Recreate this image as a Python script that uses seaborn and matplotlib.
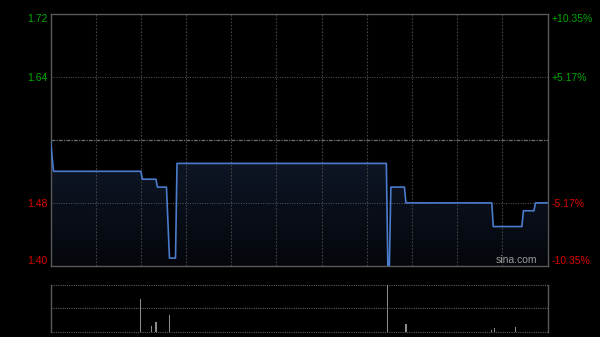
import numpy as np
import pandas as pd
import matplotlib
matplotlib.use("Agg")
import matplotlib.pyplot as plt
from matplotlib.colors import LinearSegmentedColormap
import seaborn as sns

# ---- data ----
minutes = [0, 2, 60, 61, 70, 71, 77, 79, 83, 84, 223, 224, 225, 226,
           235, 236, 293, 294, 313, 314, 321, 322, 330]
prices = [1.56, 1.52, 1.52, 1.51, 1.51, 1.50, 1.50, 1.41, 1.41, 1.53,
          1.53, 1.40, 1.40, 1.50, 1.50, 1.48, 1.48, 1.45, 1.45, 1.47,
          1.47, 1.48, 1.48]
vol_minutes = [60, 67, 70, 79, 224, 236, 293, 295, 309]
vol_values = [69, 13, 21, 36, 100, 17, 3, 7, 9]
price_ticks = [1.40, 1.48, 1.64, 1.72]
price_labels = ["1.40", "1.48", "1.64", "1.72"]
pct_labels = ["-10.35%", "-5.17%", "+5.17%", "+10.35%"]
prev_close = 1.56
time_grid = [30, 60, 90, 120, 150, 180, 210, 240, 270, 300]
session_minutes = 330

sns.set_style("dark")
plt.rcParams["font.family"] = ["Liberation Sans", "DejaVu Sans"]

BG = "#000000"
SPINE = "#595959"
GREEN = "#00a800"
RED = "#dd0000"
LINE = "#4a7bcc"

fig = plt.figure(figsize=(6, 3.37), dpi=100, facecolor=BG)
ax = fig.add_axes([50.5 / 600, 1 - 266 / 337, 497 / 600, 252.5 / 337])
axv = fig.add_axes([50.5 / 600, 1 - 331.7 / 337, 497 / 600, 46.7 / 337])

df = pd.DataFrame({"minute": minutes, "price": prices})

for a in (ax, axv):
    a.set_facecolor(BG)
    a.grid(False)

ax.set_xlim(0, session_minutes)
ax.set_ylim(price_ticks[0], price_ticks[-1])

# gradient fill under the line
poly = ax.fill_between(df["minute"], df["price"], price_ticks[0],
                       color="none", lw=0)
cmap = LinearSegmentedColormap.from_list("g", ["#04060b", "#101a2c"])
grad = np.linspace(0, 1, 256).reshape(-1, 1)
top = max(prices)
im = ax.imshow(grad, cmap=cmap, origin="lower", aspect="auto",
               extent=[0, session_minutes, price_ticks[0], top], zorder=1)
path = poly.get_paths()[0]
im.set_clip_path(path, transform=ax.transData)

# grid lines
for t in time_grid:
    ax.axvline(t, color="#434343", lw=0.8, ls=(0, (1.5, 1.5)), zorder=2)
for p in (price_ticks[1], price_ticks[2]):
    ax.axhline(p, color="#5a5a5a", lw=0.7, ls=(0, (1, 1.5)), zorder=2)
ax.axhline(prev_close, color="#707070", lw=0.9, ls=(0, (3, 1, 1, 1)), zorder=2)

sns.lineplot(data=df, x="minute", y="price", ax=ax, color=LINE, lw=1.2,
             zorder=4)
ax.set_xlabel("")
ax.set_ylabel("")
ax.set_xticks([])

for s in ax.spines.values():
    s.set_visible(True)
    s.set_color(SPINE)
    s.set_linewidth(1.0)

ax.set_yticks(price_ticks)
ax.set_yticklabels(price_labels)
ax.tick_params(axis="y", length=0, pad=2, labelsize=7.5)
for lbl, v in zip(ax.get_yticklabels(), price_ticks):
    lbl.set_color(GREEN if v > prev_close else RED)
ax.get_yticklabels()[0].set_va("bottom")
ax.get_yticklabels()[-1].set_va("top")

axr = ax.twinx()
axr.set_ylim(ax.get_ylim())
axr.set_yticks(price_ticks)
axr.set_yticklabels(pct_labels)
axr.tick_params(axis="y", length=0, pad=3, labelsize=7.5)
for lbl, v in zip(axr.get_yticklabels(), price_ticks):
    lbl.set_color(GREEN if v > prev_close else RED)
axr.get_yticklabels()[0].set_va("bottom")
axr.get_yticklabels()[-1].set_va("top")
for s in axr.spines.values():
    s.set_visible(False)
axr.grid(False)

ax.text(0.979, 0.022, "sina.com", transform=ax.transAxes, ha="right",
        va="center", color="#9a9a9a", fontsize=7.5, zorder=5)

# volume panel
vmax = max(vol_values)
axv.set_xlim(0, session_minutes)
axv.set_ylim(0, vmax)
axv.bar(vol_minutes, vol_values, width=0.8, color="#8c8c8c", lw=0, zorder=3)
for f in (0, 0.5, 1.0):
    axv.axhline(vmax * f, color="#5a5a5a", lw=0.8, ls=(0, (1, 1)),
                clip_on=False, zorder=2)
axv.set_xticks([])
axv.set_yticks([])
for k, s in axv.spines.items():
    if k in ("left", "right"):
        s.set_visible(True)
        s.set_color(SPINE)
        s.set_linewidth(1.0)
    else:
        s.set_visible(False)

fig.savefig("out.png", dpi=100, facecolor=BG)
